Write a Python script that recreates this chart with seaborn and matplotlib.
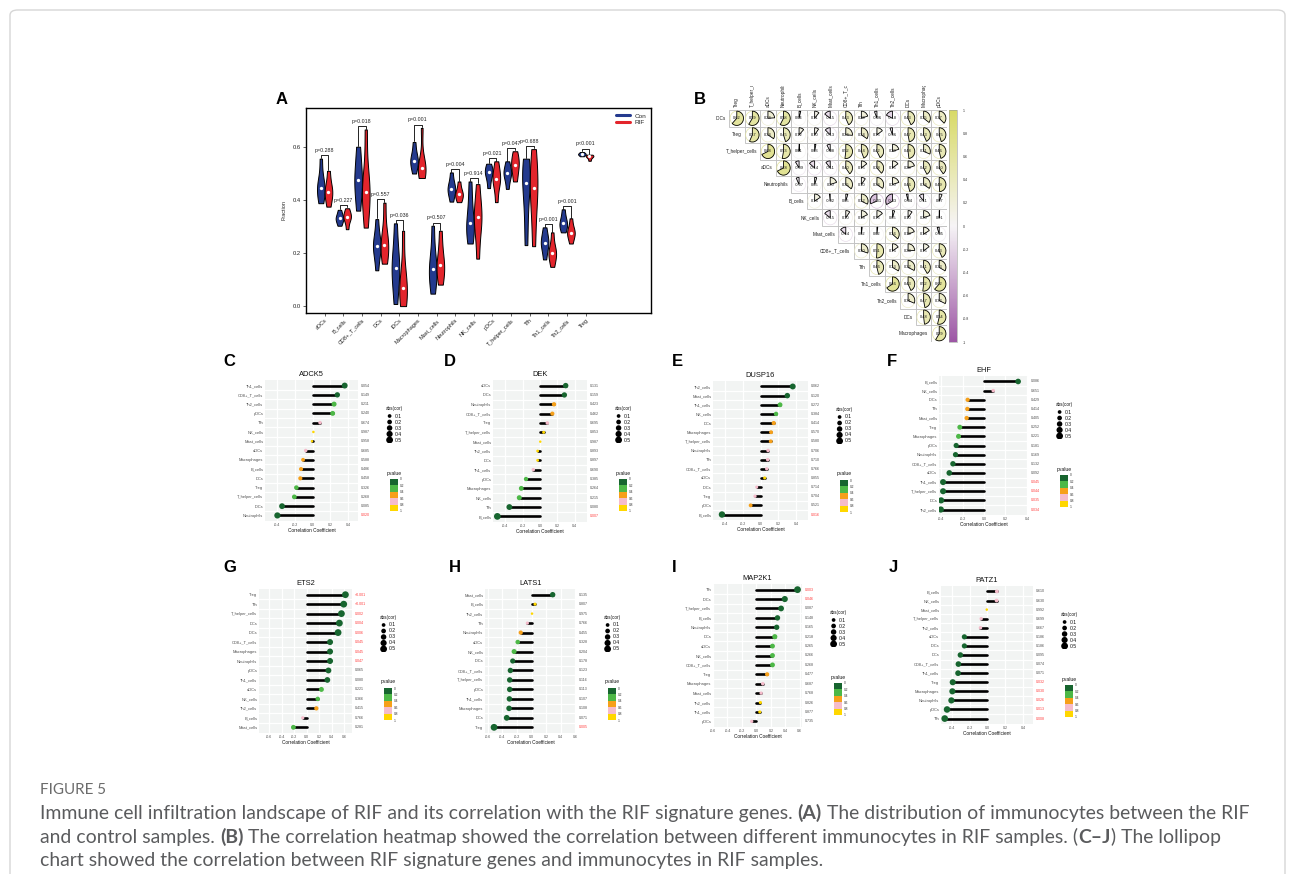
import numpy as np
import pandas as pd
import matplotlib
matplotlib.use("Agg")
import matplotlib.pyplot as plt
import matplotlib.transforms as mtransforms
from matplotlib import colorbar as mcolorbar
from matplotlib.font_manager import FontProperties
from matplotlib.patches import Wedge, Ellipse, Rectangle, FancyBboxPatch
from matplotlib.colors import LinearSegmentedColormap, ListedColormap, BoundaryNorm, Normalize
from matplotlib.lines import Line2D
import seaborn as sns

# ---------------- data: panel A (violin five-number summaries) ----------------
cells_A = ["aDCs", "B_cells", "CD8+_T_cells", "DCs", "iDCs", "Macrophages", "Mast_cells",
           "Neutrophils", "NK_cells", "pDCs", "T_helper_cells", "Tfh", "Th1_cells", "Th2_cells", "Treg"]
con_min = [0.388, 0.303, 0.360, 0.135, 0.008, 0.500, 0.047, 0.394, 0.236, 0.445, 0.442, 0.230, 0.176, 0.278, 0.565]
con_q1 = [0.415, 0.318, 0.420, 0.200, 0.090, 0.530, 0.100, 0.425, 0.275, 0.480, 0.480, 0.350, 0.215, 0.295, 0.569]
con_med = [0.447, 0.331, 0.476, 0.227, 0.144, 0.548, 0.139, 0.442, 0.312, 0.504, 0.501, 0.464, 0.239, 0.312, 0.573]
con_q3 = [0.480, 0.345, 0.540, 0.260, 0.210, 0.575, 0.200, 0.465, 0.390, 0.520, 0.520, 0.520, 0.265, 0.335, 0.577]
con_max = [0.556, 0.363, 0.601, 0.328, 0.312, 0.619, 0.303, 0.504, 0.470, 0.537, 0.546, 0.556, 0.297, 0.365, 0.581]
rif_min = [0.375, 0.290, 0.296, 0.160, 0.000, 0.483, 0.081, 0.392, 0.179, 0.392, 0.470, 0.226, 0.148, 0.236, 0.548]
rif_q1 = [0.405, 0.322, 0.380, 0.195, 0.030, 0.505, 0.120, 0.408, 0.280, 0.455, 0.500, 0.350, 0.180, 0.262, 0.558]
rif_med = [0.432, 0.337, 0.432, 0.232, 0.070, 0.520, 0.154, 0.422, 0.335, 0.480, 0.533, 0.445, 0.200, 0.277, 0.565]
rif_q3 = [0.460, 0.350, 0.490, 0.280, 0.140, 0.545, 0.210, 0.440, 0.380, 0.510, 0.560, 0.520, 0.225, 0.295, 0.568]
rif_max = [0.510, 0.369, 0.666, 0.390, 0.284, 0.672, 0.284, 0.470, 0.460, 0.546, 0.584, 0.592, 0.278, 0.331, 0.571]
pvals_A = ["p=0.288", "p=0.227", "p=0.018", "p=0.557", "p=0.036", "p=0.001", "p=0.507", "p=0.004",
           "p=0.914", "p=0.021", "p=0.047", "p=0.688", "p=0.001", "p=0.001", "p<0.001"]

# ---------------- data: panel B (upper-triangle correlations) ----------------
rows_B = ["iDCs", "Treg", "T_helper_cells", "aDCs", "Neutrophils", "B_cells", "NK_cells",
          "Mast_cells", "CD8+_T_cells", "Tfh", "Th1_cells", "Th2_cells", "DCs", "Macrophages"]
cols_B = ["Treg", "T_helper_cells", "aDCs", "Neutrophils", "B_cells", "NK_cells", "Mast_cells",
          "CD8+_T_cells", "Tfh", "Th1_cells", "Th2_cells", "DCs", "Macrophages", "pDCs"]
corr_iDCs = [0.62, 0.59, 0.24, 0.58, 0.04, 0.11, -0.15, 0.43, 0.20, -0.06, -0.18, 0.43, 0.35, 0.37]
corr_Treg = [0.57, 0.34, 0.45, 0.12, 0.10, -0.13, 0.26, 0.34, 0.15, -0.06, 0.47, 0.43, 0.45]
corr_Th = [0.68, 0.53, 0.01, 0.03, -0.08, 0.52, 0.44, 0.42, 0.20, 0.48, 0.31, 0.46]
corr_aDCs = [0.68, -0.09, -0.14, -0.11, 0.40, 0.15, 0.38, 0.15, 0.20, 0.42, 0.40]
corr_Neu = [-0.07, 0.05, 0.20, 0.35, 0.10, 0.34, 0.20, 0.46, 0.34, 0.49]
corr_B = [0.16, -0.02, 0.05, 0.32, -0.31, -0.33, -0.04, -0.11, 0.07]
corr_NK = [-0.15, 0.10, 0.18, 0.15, 0.05, 0.10, 0.20, 0.01]
corr_Mast = [-0.14, 0.02, 0.02, 0.36, 0.19, 0.16, -0.05]
corr_CD8 = [0.30, 0.51, 0.16, 0.24, 0.15, 0.43]
corr_Tfh = [0.46, 0.33, 0.32, 0.41, 0.33]
corr_Th1 = [0.66, 0.43, 0.52, 0.62]
corr_Th2 = [0.31, 0.47, 0.32]
corr_DCs = [0.48, 0.54]
corr_Mac = [0.59]

# ---------------- data: lollipop panels C-J ----------------
cells_C = ["Th1_cells", "CD8+_T_cells", "Th2_cells", "pDCs", "Tfh", "NK_cells", "Mast_cells", "aDCs",
           "Macrophages", "B_cells", "DCs", "Treg", "T_helper_cells", "iDCs", "Neutrophils"]
r_C = [0.362, 0.279, 0.242, 0.226, 0.083, 0.008, -0.008, -0.079, -0.109, -0.132, -0.140, -0.185, -0.208, -0.347, -0.400]
p_C = [0.054, 0.149, 0.211, 0.240, 0.674, 0.987, 0.958, 0.685, 0.588, 0.486, 0.458, 0.326, 0.268, 0.085, 0.020]

cells_D = ["aDCs", "iDCs", "Neutrophils", "CD8+_T_cells", "Treg", "T_helper_cells", "Mast_cells", "Th2_cells",
           "DCs", "Th1_cells", "pDCs", "Macrophages", "NK_cells", "Tfh", "B_cells"]
r_D = [0.295, 0.280, 0.161, 0.142, 0.084, 0.042, 0.003, -0.027, -0.027, -0.077, -0.161, -0.215, -0.238, -0.352, -0.490]
p_D = [0.131, 0.159, 0.423, 0.462, 0.695, 0.853, 0.987, 0.893, 0.897, 0.690, 0.385, 0.264, 0.215, 0.080, 0.007]

cells_E = ["Th2_cells", "Mast_cells", "Th1_cells", "NK_cells", "DCs", "Macrophages", "T_helper_cells",
           "Neutrophils", "Tfh", "CD8+_T_cells", "aDCs", "iDCs", "Treg", "pDCs", "B_cells"]
r_E = [0.361, 0.300, 0.218, 0.173, 0.147, 0.117, 0.113, 0.083, 0.079, 0.068, 0.045, -0.045, -0.064, -0.113, -0.436]
p_E = [0.062, 0.120, 0.272, 0.384, 0.414, 0.570, 0.580, 0.706, 0.710, 0.766, 0.855, 0.714, 0.704, 0.521, 0.016]

cells_F = ["B_cells", "NK_cells", "iDCs", "Tfh", "Mast_cells", "Treg", "Macrophages", "pDCs", "Neutrophils",
           "CD8+_T_cells", "aDCs", "Th1_cells", "T_helper_cells", "DCs", "Th2_cells"]
r_F = [0.318, 0.086, -0.153, -0.156, -0.162, -0.226, -0.238, -0.260, -0.266, -0.290, -0.324, -0.382, -0.382, -0.400, -0.403]
p_F = [0.086, 0.651, 0.429, 0.414, 0.405, 0.252, 0.221, 0.181, 0.169, 0.132, 0.092, 0.045, 0.044, 0.035, 0.034]

cells_G = ["Treg", "Tfh", "T_helper_cells", "DCs", "iDCs", "CD8+_T_cells", "Macrophages", "Neutrophils",
           "pDCs", "Th1_cells", "aDCs", "NK_cells", "Th2_cells", "B_cells", "Mast_cells"]
r_G = [0.622, 0.595, 0.558, 0.525, 0.504, 0.375, 0.375, 0.375, 0.349, 0.332, 0.236, 0.177, 0.155, -0.064, -0.214]
p_G = [0.0005, 0.0005, 0.002, 0.004, 0.006, 0.045, 0.045, 0.047, 0.065, 0.080, 0.221, 0.366, 0.415, 0.766, 0.281]

cells_H = ["Mast_cells", "B_cells", "Th2_cells", "Tfh", "Neutrophils", "aDCs", "NK_cells", "iDCs",
           "CD8+_T_cells", "T_helper_cells", "pDCs", "Th1_cells", "Macrophages", "DCs", "Treg"]
r_H = [0.290, 0.048, 0.007, -0.057, -0.148, -0.189, -0.239, -0.258, -0.290, -0.299, -0.299, -0.303, -0.308, -0.340, -0.514]
p_H = [0.135, 0.807, 0.975, 0.766, 0.455, 0.328, 0.204, 0.178, 0.123, 0.116, 0.113, 0.107, 0.108, 0.071, 0.005]

cells_I = ["Tfh", "iDCs", "T_helper_cells", "B_cells", "Neutrophils", "DCs", "aDCs", "NK_cells",
           "CD8+_T_cells", "Treg", "Macrophages", "Mast_cells", "Th2_cells", "Th1_cells", "pDCs"]
r_I = [0.568, 0.392, 0.341, 0.291, 0.280, 0.254, 0.222, 0.222, 0.222, 0.148, 0.088, 0.065, 0.055, 0.046, -0.065]
p_I = [0.003, 0.046, 0.087, 0.148, 0.165, 0.218, 0.265, 0.266, 0.268, 0.477, 0.687, 0.768, 0.826, 0.877, 0.735]

cells_J = ["B_cells", "NK_cells", "Mast_cells", "T_helper_cells", "Th2_cells", "aDCs", "iDCs", "DCs",
           "CD8+_T_cells", "Th1_cells", "Treg", "Macrophages", "Neutrophils", "pDCs", "Tfh"]
r_J = [0.105, 0.102, -0.008, -0.071, -0.079, -0.260, -0.260, -0.305, -0.327, -0.331, -0.391, -0.395, -0.406, -0.455, -0.481]
p_J = [0.610, 0.630, 0.992, 0.699, 0.667, 0.186, 0.186, 0.095, 0.074, 0.071, 0.032, 0.030, 0.026, 0.013, 0.008]

size_legend_vals = [0.1, 0.2, 0.3, 0.4, 0.5]
p_bounds = [0, 0.2, 0.4, 0.6, 0.8, 1.0]
p_tick_labels = ["0", "0.2", "0.4", "0.6", "0.8", "1"]

# ---------------- style ----------------
sns.set_theme(style="white")
plt.rcParams["font.family"] = ["Liberation Sans", "DejaVu Sans"]

W, H = 1295, 874
fig = plt.figure(figsize=(W / 100, H / 100), dpi=100)
fig.patch.set_facecolor("white")


def px_axes(x0, y0, x1, y1):
    return fig.add_axes([x0 / W, 1 - y1 / H, (x1 - x0) / W, (y1 - y0) / H])


def ftext(x, y, s, **kw):
    return fig.text(x / W, 1 - y / H, s, **kw)


# outer figure frame
fig.patches.append(FancyBboxPatch((10 / W, -0.05), (1275) / W, 1 - 10 / H + 0.05,
                                  boxstyle="round,pad=0,rounding_size=0.006", transform=fig.transFigure,
                                  fill=False, ec="#d6d6d6", lw=1.0, figure=fig))

CON, RIF = "#243A8E", "#E3252C"

# ---------------- panel A ----------------
axA = px_axes(306, 108, 651, 313)
recs = []
for i, c in enumerate(cells_A):
    for g, arrs in (("Con", (con_min, con_q1, con_med, con_q3, con_max)),
                    ("RIF", (rif_min, rif_q1, rif_med, rif_q3, rif_max))):
        mn, q1, md, q3, mx = (a[i] for a in arrs)
        for v in (mn, q1, md, md, q3, mx):
            recs.append((c, g, v))
dfA = pd.DataFrame(recs, columns=["cell", "group", "frac"])
sns.violinplot(data=dfA, x="cell", y="frac", hue="group", order=cells_A, hue_order=["Con", "RIF"],
               palette={"Con": CON, "RIF": RIF}, inner=None, cut=0, density_norm="width",
               width=0.82, linewidth=0.7, linecolor="black", bw_adjust=0.9, saturation=1,
               legend=False, ax=axA)
medA = pd.DataFrame({"cell": cells_A * 2, "group": ["Con"] * len(cells_A) + ["RIF"] * len(cells_A),
                     "frac": con_med + rif_med})
sns.stripplot(data=medA, x="cell", y="frac", hue="group", order=cells_A, hue_order=["Con", "RIF"],
              palette={"Con": "white", "RIF": "white"}, dodge=True, jitter=False, size=2.4,
              linewidth=0, legend=False, ax=axA, zorder=5)
for i in range(len(cells_A)):
    h = max(con_max[i], rif_max[i]) + 0.012
    axA.plot([i - 0.2, i - 0.2, i + 0.2, i + 0.2], [con_max[i] + 0.003, h, h, rif_max[i] + 0.003],
             color="black", lw=0.6, zorder=6)
    axA.text(i, h + 0.009, pvals_A[i], ha="center", va="bottom", fontsize=3.8, color="#222222")
axA.set_xlim(-1.0, 17.5)
axA.set_ylim(-0.026, 0.747)
axA.set_yticks([0, 0.2, 0.4, 0.6])
axA.set_yticklabels(["0.0", "0.2", "0.4", "0.6"])
axA.set_xlabel("")
axA.set_ylabel("Fraction", fontsize=4, labelpad=5)
axA.tick_params(axis="both", length=2, width=0.5, labelsize=4.2, pad=1.5, colors="#222222")
axA.tick_params(axis="both", bottom=True, left=True)
plt.setp(axA.get_xticklabels(), rotation=45, ha="right", rotation_mode="anchor", fontsize=4)
for s in axA.spines.values():
    s.set_color("black")
    s.set_linewidth(1.0)
axA.legend(handles=[Line2D([0], [0], color=CON, lw=2.2), Line2D([0], [0], color=RIF, lw=2.2)],
           labels=["Con", "RIF"], loc="upper right", fontsize=4.6, frameon=False, handlelength=2.2,
           borderaxespad=0.4, labelspacing=0.15, handletextpad=0.6)

# ---------------- panel B ----------------
corr_rows = [corr_iDCs, corr_Treg, corr_Th, corr_aDCs, corr_Neu, corr_B, corr_NK, corr_Mast,
             corr_CD8, corr_Tfh, corr_Th1, corr_Th2, corr_DCs, corr_Mac]
nB = len(rows_B)
mat = np.full((nB, nB), np.nan)
for r, vals in enumerate(corr_rows):
    mat[r, r:] = vals
dfB = pd.DataFrame(mat, index=rows_B, columns=cols_B)
axB = px_axes(729, 110, 947, 342)
sns.heatmap(dfB, mask=dfB.isna(), cmap=ListedColormap(["white"]), linewidths=0,
            cbar=False, xticklabels=False, yticklabels=False, ax=axB)
cmapB = LinearSegmentedColormap.from_list("corrB", ["#9C56A4", "#F6F4F6", "#D8DA66"])
normB = Normalize(-1, 1)
for r in range(nB):
    for c in range(r, nB):
        v = mat[r, c]
        col = cmapB(normB(v))
        axB.add_patch(Rectangle((c, r), 1, 1, fc="white", ec="#bdbdbd", lw=0.6, zorder=1))
        axB.add_patch(Ellipse((c + 0.5, r + 0.5), 0.86, 0.86, fill=False, ec=col, lw=0.5, zorder=2))
        if v >= 0:
            t1, t2 = 270, 270 + 360 * v
        else:
            t1, t2 = 270 - 360 * abs(v), 270
        axB.add_patch(Wedge((c + 0.5, r + 0.5), 0.43, t1, t2, fc=col, ec="black", lw=0.6, zorder=3))
        axB.text(c + 0.5, r + 0.5, f"{v:.2f}", ha="center", va="center", fontsize=2.9, color="#111111",
                 zorder=4)
    axB.text(r - 0.2, r + 0.5, rows_B[r], ha="right", va="center", fontsize=3.4, color="#222222")
axBc = px_axes(729, 86, 947, 110)
axBc.set_xlim(0, nB)
axBc.set_ylim(0, 1)
axBc.axis("off")
for c, name in enumerate(cols_B):
    axBc.text(c + 0.5, 0.12, name, rotation=90, ha="center", va="bottom", fontsize=3.4,
              color="#222222", clip_on=True)
axCb = px_axes(949, 110, 957, 342)
cbB = mcolorbar.ColorbarBase(axCb, cmap=cmapB, norm=normB, orientation="vertical")
tk = np.round(np.linspace(-1, 1, 11), 1)
cbB.set_ticks(tk)
cbB.set_ticklabels([("%g" % t) for t in tk])
axCb.tick_params(length=0, labelsize=2.6, pad=4, colors="#333333")
cbB.outline.set_linewidth(0.4)
cbB.outline.set_edgecolor("#999999")

# ---------------- lollipop panels ----------------
P_COLORS = ["#17652F", "#4DB847", "#F6A01A", "#F5BCCB", "#FFD700"]
P_LABELS = ["b0", "b1", "b2", "b3", "b4"]
SIZES = (3, 24)
SNORM = (0, 0.5)


def lollipop(box, title, cells, r, p, xlim, xticks):
    x0, y0, x1, y1 = box
    ax = px_axes(x0, y0, x1, y1)
    df = pd.DataFrame({"cell": cells, "r": r, "p": p})
    df["absr"] = df["r"].abs()
    df["pbin"] = pd.cut(df["p"], bins=[-0.01, 0.2, 0.4, 0.6, 0.8, 1.01], labels=P_LABELS, right=False)
    df["pbin"] = df["pbin"].astype(str)
    ax.set_facecolor("#F2F4F3")
    sns.scatterplot(data=df, x="r", y="cell", hue="pbin", hue_order=P_LABELS,
                    palette=dict(zip(P_LABELS, P_COLORS)), size="absr", sizes=SIZES, size_norm=SNORM,
                    edgecolor="none", legend=False, ax=ax, zorder=4)
    lc = ax.hlines(y=df["cell"], xmin=0, xmax=df["r"], color="black", lw=1.9, zorder=3)
    lc.set_capstyle("round")
    n = len(cells)
    ax.set_ylim(n - 1 + 0.6, -0.6)
    ax.set_xlim(*xlim)
    ax.set_xticks(xticks)
    ax.set_xticklabels([("%.1f" % t) for t in xticks])
    ax.set_yticks([i + 0.5 for i in range(n - 1)], minor=True)
    ax.grid(which="major", axis="x", color="white", lw=0.9)
    ax.grid(which="minor", axis="y", color="white", lw=0.9)
    ax.grid(which="major", axis="y", visible=False)
    ax.set_axisbelow(True)
    for s in ax.spines.values():
        s.set_visible(False)
    ax.tick_params(axis="both", which="both", length=0, pad=1.2)
    ax.tick_params(axis="y", labelsize=2.9, labelcolor="#4d4d4d")
    ax.tick_params(axis="x", labelsize=2.6, labelcolor="#4d4d4d")
    ax.set_xlabel("Correlation Coefficient", fontsize=3.4, labelpad=1.2, color="#111111")
    ax.set_ylabel("")
    ax.set_title(title, fontsize=5.4, pad=3, color="#111111")
    trans = mtransforms.blended_transform_factory(ax.transAxes, ax.transData)
    for i, pv in enumerate(p):
        txt = "<0.001" if pv < 0.001 else "%.3f" % pv
        ax.text(1.03, i, txt, transform=trans, ha="left", va="center", fontsize=2.6,
                color="#FF3B3B" if pv < 0.05 else "#4d4d4d")
    # size legend
    lg = px_axes(x1 + 28, y0 + 33, x1 + 52, y0 + 63)
    dl = pd.DataFrame({"x": [0.0] * len(size_legend_vals), "v": size_legend_vals})
    sns.scatterplot(data=dl, x="x", y="v", size="v", sizes=SIZES, size_norm=SNORM, color="black",
                    edgecolor="none", legend=False, ax=lg)
    lg.set_xlim(-0.6, 3.4)
    lg.set_ylim(0.55, 0.05)
    lg.axis("off")
    for v in size_legend_vals:
        lg.text(0.9, v, "%.1f" % v, ha="left", va="center", fontsize=3.7, color="#111111")
    lg.text(-0.6, -0.03, "abs(cor)", ha="left", va="center", fontsize=3.3, color="#111111", clip_on=False)
    # pvalue legend
    ftext(x1 + 29, y0 + 93, "pvalue", ha="left", va="center", fontsize=3.6, color="#111111")
    pc = px_axes(x1 + 32, y0 + 99, x1 + 40, y0 + 131)
    cb = mcolorbar.ColorbarBase(pc, cmap=ListedColormap(P_COLORS), norm=BoundaryNorm(p_bounds, 5),
                                orientation="vertical")
    cb.set_ticks(p_bounds)
    cb.set_ticklabels(p_tick_labels)
    pc.invert_yaxis()
    pc.tick_params(length=0, labelsize=2.3, pad=1.5, colors="#333333")
    cb.outline.set_visible(False)
    return ax


t4 = [-0.4, -0.2, 0.0, 0.2, 0.4]
t6 = [-0.6, -0.4, -0.2, 0.0, 0.2, 0.4, 0.6]
lollipop((265, 380, 358, 521), "ADCK5", cells_C, r_C, p_C, (-0.54, 0.513), t4)
lollipop((493, 380, 587, 522), "DEK", cells_D, r_D, p_D, (-0.54, 0.54), t4)
lollipop((713, 381, 808, 520), "DUSP16", cells_E, r_E, p_E, (-0.537, 0.533), t4)
lollipop((939, 376, 1028, 515), "EHF", cells_F, r_F, p_F, (-0.42, 0.41), t4)
lollipop((259, 589, 352, 733), "ETS2", cells_G, r_G, p_G, (-0.767, 0.728), t6)
lollipop((485, 589, 576, 733), "LATS1", cells_H, r_H, p_H, (-0.638, 0.61), t6)
lollipop((713, 584, 802, 727), "MAP2K1", cells_I, r_I, p_I, (-0.60, 0.63), t6)
lollipop((941, 586, 1033, 724), "PATZ1", cells_J, r_J, p_J, (-0.523, 0.512), t4)

# ---------------- panel letters ----------------
for lab, x, y in [("A", 282, 99), ("B", 700, 99), ("C", 229, 362), ("D", 450, 362), ("E", 677, 362),
                  ("F", 892, 361), ("G", 230, 567), ("H", 455, 568), ("I", 674, 567), ("J", 893, 568)]:
    ftext(x, y, lab, ha="center", va="center", fontsize=12, fontweight="bold", color="black")

# ---------------- caption ----------------
CAPC = "#5A5B5D"
CAP_REG = FontProperties(family=["Lato", "DejaVu Sans"], weight="normal")
CAP_BOLD = FontProperties(family=["Lato", "DejaVu Sans"], weight="bold")
renderer = fig.canvas.get_renderer()

line1 = [("Immune cell infiltration landscape of RIF and its correlation with the RIF signature genes. ", False),
         ("(A)", True), (" The distribution of immunocytes between the RIF", False)]
line2 = [("and control samples. ", False), ("(B)", True),
         (" The correlation heatmap showed the correlation between different immunocytes in RIF samples. (", False),
         ("C\u2013J", True), (") The lollipop", False)]
line3 = [("chart showed the correlation between RIF signature genes and immunocytes in RIF samples.", False)]


def rich_line(x, y, parts, size, draw=True):
    cur = x
    made = []
    for txt, bold in parts:
        fp = (CAP_BOLD if bold else CAP_REG).copy()
        fp.set_size(size)
        t = fig.text(cur / W, 1 - y / H, txt, fontproperties=fp, color=CAPC, ha="left", va="baseline")
        cur += t.get_window_extent(renderer=renderer).width
        made.append(t)
    if not draw:
        for t in made:
            t.remove()
    return cur - x


w12 = rich_line(40, 820, line1, 12, draw=False)
capsize = 12 * 1208.0 / w12
fp5 = CAP_REG.copy()
fp5.set_size(capsize * 0.78)
ftext(40, 794, "FIGURE 5", fontproperties=fp5, ha="left", va="baseline", color="#6b6b6b")
rich_line(40, 819, line1, capsize)
rich_line(40, 843, line2, capsize)
rich_line(40, 866, line3, capsize)

fig.savefig("out.png", dpi=100, facecolor="white")
